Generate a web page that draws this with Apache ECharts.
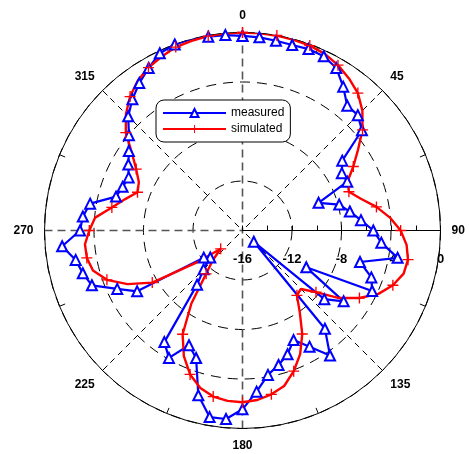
<!DOCTYPE html>
<html>
<head>
<meta charset="utf-8">
<script src="https://cdn.jsdelivr.net/npm/echarts@6/dist/echarts.min.js"></script>
<style>
  html, body { margin: 0; padding: 0; background: #fff; }
  #chart { width: 470px; height: 454px; }
</style>
</head>
<body>
<div id="chart"></div>
<script>
// Compass angles (deg, clockwise from north) shared by both patterns.
const angles = [
  0, 5, 10, 15, 20, 25, 30, 35, 40, 45, 50, 55, 60, 65, 70, 75, 80, 85,
  90, 95, 100, 105, 110, 115, 120, 125, 130, 135, 140, 145, 150, 155, 160, 165, 170, 175,
  180, 185, 190, 195, 200, 205, 210, 215, 220, 225, 230, 235, 240, 245, 250, 255, 260, 265,
  270, 275, 280, 285, 290, 295, 300, 305, 310, 315, 320, 325, 330, 335, 340, 345, 350, 355
];

// Normalized gain in dB.
const measured = [
  -0.28, -0.33, -0.43, -0.48, -0.40, -0.46, -0.84, -1.81, -2.83, -2.82, -3.40, -6.16, -6.73, -6.66, -9.46, -7.91, -7.19, -6.39,
  -5.43, -4.74, -3.27, -6.17, -4.92, -4.44, -10.05, -6.02, -7.37, -14.71, -5.64, -3.67, -5.16, -6.23, -5.36, -4.75, -4.15, -2.93,
  -1.55, -0.71, -0.69, -2.21, -5.04, -5.77, -4.11, -4.99, -10.29, -11.56, -12.6, -12.18, -6.17, -4.83, -3.05, -2.64, -2.31, -1.37,
  -2.87, -3.05, -3.50, -5.42, -5.69, -5.85, -5.35, -4.79, -4.02, -2.94, -2.16, -1.46, -0.84, -0.19, 0, 0, -0.10, -0.15
];

const simulated = [
  0, 0, 0, -0.05, -0.10, -0.25, -0.57, -1.0, -1.5, -2.3, -3.34, -4.6, -5.66, -6.63, -6.85, -6.1, -5.01, -4.04,
  -3.22, -2.69, -2.42, -2.52, -3.07, -3.88, -5.09, -6.48, -8.25, -9.32, -9.16, -7.93, -6.34, -4.98, -3.9, -2.99, -2.56, -2.25,
  -2.12, -2.18, -2.37, -2.83, -3.62, -4.79, -6.32, -8.8, -11.43, -12.6, -13.7, -11.5, -7.58, -5.75, -4.34, -3.49, -3.23, -3.22,
  -3.62, -4.05, -5.28, -6.19, -6.97, -6.76, -6.08, -5.09, -3.69, -2.68, -1.87, -1.24, -0.8, -0.51, -0.23, -0.14, -0.05, 0
];

const rMin = -16, rMax = 0, rStep = 4;

const FONT = "'Liberation Sans', Arial, sans-serif";
const PLUS = "path://M4.4,0H5.6V4.4H10V5.6H5.6V10H4.4V5.6H0V4.4H4.4Z";
const CENTER = [242.5, 230.5], RADIUS = 198;

// Angle axis runs 90..450 starting at east so the radius axis points right.
const toAxis = (a) => (a < 90 ? a + 360 : a);

function ring(values, marked) {
  const pts = angles.map((a, i) => {
    const item = { value: [values[i], toAxis(a)] };
    if (marked) item.symbol = a % 10 === 0 ? PLUS : "none";
    return item;
  });
  pts.push(Object.assign({}, pts[0])); // close the loop
  return pts;
}

const chart = echarts.init(document.getElementById("chart"), null, { renderer: "canvas" });

chart.setOption({
  animation: false,
  backgroundColor: "#fff",
  polar: [
    { center: CENTER, radius: RADIUS },
    { center: CENTER, radius: RADIUS }
  ],
  angleAxis: [
    {
      polarIndex: 0, type: "value", min: 90, max: 450, interval: 45,
      startAngle: 0, clockwise: true,
      axisLine: { lineStyle: { color: "#000", width: 1 } },
      axisTick: { inside: true, length: 7, lineStyle: { color: "#000", width: 1 } },
      minorTick: { show: true, splitNumber: 2, length: 6, lineStyle: { color: "#000", width: 1 } },
      axisLabel: {
        margin: 11, color: "#000", fontFamily: FONT, fontWeight: "bold", fontSize: 12,
        formatter: (v) => (v === 450 ? "" : String(v % 360))
      },
      // diagonals only; the 90° spokes come from the second polar
      splitLine: { show: true, lineStyle: { color: ["transparent", "#000"], type: [6, 5], width: 1 } }
    },
    {
      polarIndex: 1, type: "value", min: 90, max: 450, interval: 90,
      startAngle: 0, clockwise: true,
      axisLine: { show: false }, axisTick: { show: false }, axisLabel: { show: false },
      splitLine: { show: true, lineStyle: { color: ["transparent", "#555", "#555", "#555"], type: [8, 5], width: 1.6 } }
    }
  ],
  radiusAxis: [
    {
      polarIndex: 0, type: "value", min: rMin, max: rMax, interval: rStep,
      axisLine: { lineStyle: { color: "#000", width: 1 } },
      axisTick: { length: 5, lineStyle: { color: "#000" } },
      minorTick: { show: true, splitNumber: 2, length: 5, lineStyle: { color: "#000" } },
      axisLabel: {
        margin: -22, verticalAlign: "top", color: "#000",
        fontFamily: FONT, fontWeight: "bold", fontSize: 13
      },
      splitLine: { show: true, lineStyle: { color: "#000", type: [10, 7], width: 1 } }
    },
    { polarIndex: 1, type: "value", min: rMin, max: rMax, show: false }
  ],
  legend: {
    orient: "vertical", left: 156, top: 100,
    padding: [7, 6, 7, 6], itemWidth: 63, itemHeight: 10, itemGap: 4,
    backgroundColor: "#fff", borderColor: "#000", borderWidth: 1, borderRadius: 8,
    textStyle: { fontFamily: FONT, fontSize: 12, color: "#000" },
    data: ["measured", "simulated"]
  },
  series: [
    {
      name: "measured", type: "line", coordinateSystem: "polar", polarIndex: 0,
      data: ring(measured, false),
      symbol: "emptyTriangle", symbolSize: 10,
      lineStyle: { color: "#0000ff", width: 2.2 },
      itemStyle: { color: "#0000ff", borderColor: "#0000ff", borderWidth: 1.5 }
    },
    {
      name: "simulated", type: "line", coordinateSystem: "polar", polarIndex: 0,
      data: ring(simulated, true),
      symbol: PLUS, symbolSize: 11,
      lineStyle: { color: "#ff0000", width: 2.4 },
      itemStyle: { color: "#ff0000", borderWidth: 0 }
    }
  ]
});
</script>
</body>
</html>
